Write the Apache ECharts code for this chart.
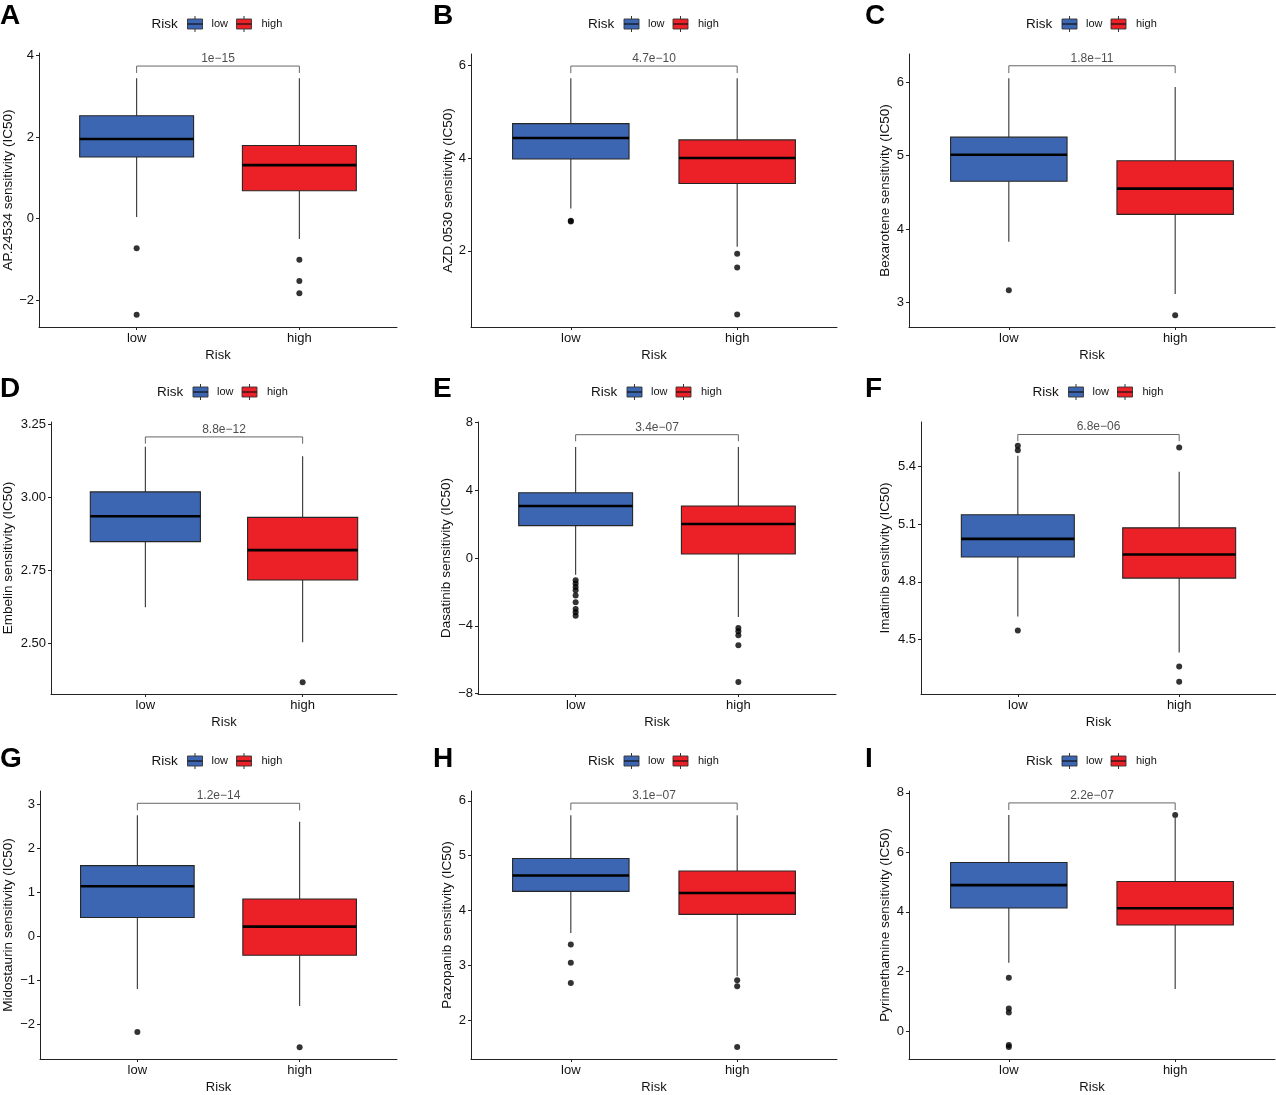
<!DOCTYPE html>
<html>
<head>
<meta charset="utf-8">
<script src="https://cdn.jsdelivr.net/npm/echarts@6.0.0/dist/echarts.min.js"></script>
<style>
  html, body { margin: 0; padding: 0; background: #fff; }
  #chart { width: 1276px; height: 1095px; }
</style>
</head>
<body>
<div id="chart"></div>
<script>
// ---- data ----
const letters = ['A', 'B', 'C', 'D', 'E', 'F', 'G', 'H', 'I'];
const drugs = ['AP.24534', 'AZD.0530', 'Bexarotene', 'Embelin', 'Dasatinib', 'Imatinib', 'Midostaurin', 'Pazopanib', 'Pyrimethamine'];
const groups = ['low', 'high'];
const pValues = ['1e\u221215', '4.7e\u221210', '1.8e\u221211', '8.8e\u221212', '3.4e\u221207', '6.8e\u221206', '1.2e\u221214', '3.1e\u221207', '2.2e\u221207'];

// [lower whisker, Q1, median, Q3, upper whisker]
const lowBox = [
  [0.04, 1.51, 1.95, 2.52, 3.44],
  [2.91, 3.98, 4.43, 4.74, 5.72],
  [3.83, 4.65, 5.01, 5.25, 6.05],
  [2.625, 2.849, 2.936, 3.019, 3.173],
  [-0.98, 1.92, 3.08, 3.86, 6.57],
  [4.619, 4.929, 5.023, 5.148, 5.455],
  [-1.20, 0.43, 1.14, 1.61, 2.76],
  [3.59, 4.35, 4.64, 4.95, 5.74],
  [2.29, 4.13, 4.90, 5.66, 7.25]
];
const highBox = [
  [-0.50, 0.68, 1.31, 1.79, 3.44],
  [2.09, 3.45, 4.00, 4.39, 5.72],
  [3.12, 4.20, 4.55, 4.93, 5.93],
  [2.505, 2.718, 2.820, 2.932, 3.141],
  [-3.47, 0.25, 2.02, 3.08, 6.57],
  [4.433, 4.819, 4.942, 5.080, 5.372],
  [-1.59, -0.43, 0.22, 0.85, 2.61],
  [2.80, 3.93, 4.32, 4.72, 5.74],
  [1.41, 3.56, 4.12, 5.02, 7.15]
];
const lowOutliers = [
  [-0.73, -2.36],
  [2.65, 2.63],
  [3.17],
  [],
  [-1.3, -1.5, -1.7, -1.9, -2.2, -2.6, -3.0, -3.2, -3.4],
  [5.507, 5.483, 4.547],
  [-2.18],
  [3.38, 3.05, 2.68],
  [1.79, 0.76, 0.62, -0.47, -0.54]
];
const highOutliers = [
  [-1.01, -1.53, -1.83],
  [1.94, 1.64, 0.63],
  [2.83],
  [2.368],
  [-4.12, -4.31, -4.55, -5.14, -7.31],
  [5.497, 4.360, 4.281],
  [-2.53],
  [2.73, 2.62, 1.51],
  [7.25]
];
// [leg end, bar] of the comparison bracket
const bracketY = [
  [3.57, 3.74], [5.83, 5.98], [6.12, 6.22],
  [3.184, 3.207], [6.9, 7.29], [5.53, 5.565],
  [2.87, 3.03], [5.83, 5.96], [7.42, 7.66]
];
const yRange = [
  [-2.66, 4.06], [0.36, 6.24], [2.67, 6.38],
  [2.328, 3.258], [-8.02, 8.04], [4.217, 5.63],
  [-2.795, 3.31], [1.293, 6.18], [-0.94, 8.06]
];
const yTicks = [
  [-2, 0, 2, 4], [2, 4, 6], [3, 4, 5, 6],
  [2.5, 2.75, 3, 3.25], [-8, -4, 0, 4, 8], [4.5, 4.8, 5.1, 5.4],
  [-2, -1, 0, 1, 2, 3], [2, 3, 4, 5, 6], [0, 2, 4, 6, 8]
];
const yTickDigits = [0, 0, 0, 2, 0, 1, 0, 0, 0];

// ---- layout ----
const FONT = '"Liberation Sans", Arial, Helvetica, sans-serif';
const colors = ['#3C66B1', '#EC2027'];
// [left, top, width, height] of each plot panel
const rects = [
  [38, 53, 359, 274], [471, 54, 366, 273], [909, 54, 366, 273],
  [49, 422, 348, 272], [478, 422, 358, 272], [921, 422, 355, 272],
  [38, 791, 359, 272], [471, 791, 366, 272], [909, 791, 366, 272]
];
const yTitleGap = [24, 16, 17, 36, 25, 29, 25, 17, 17];
const legendY = [24, 392, 761];
const letterX = [0, 433, 865];
const letterTop = [2, 375, 745];

const chart = echarts.init(document.getElementById('chart'), null, { renderer: 'canvas' });

function renderBox(params, api) {
  const x = api.value(0);
  const lo = api.coord([x, api.value(1)]);
  const q1 = api.coord([x, api.value(2)]);
  const md = api.coord([x, api.value(3)]);
  const q3 = api.coord([x, api.value(4)]);
  const hi = api.coord([x, api.value(5)]);
  const half = api.size([0.7, 0])[0] / 2;
  const fill = colors[x - 1];
  const line = { stroke: '#333', lineWidth: 1.1 };
  return {
    type: 'group',
    children: [
      { type: 'line', shape: { x1: lo[0], y1: lo[1], x2: q1[0], y2: q1[1] }, style: line },
      { type: 'line', shape: { x1: q3[0], y1: q3[1], x2: hi[0], y2: hi[1] }, style: line },
      { type: 'rect', shape: { x: q3[0] - half, y: q3[1], width: half * 2, height: q1[1] - q3[1] },
        style: { fill: fill, stroke: '#262626', lineWidth: 1.1 } },
      { type: 'line', shape: { x1: md[0] - half, y1: md[1], x2: md[0] + half, y2: md[1] },
        style: { stroke: '#000', lineWidth: 2.6 } }
    ]
  };
}

const grid = [], xAxis = [], yAxis = [], series = [], graphic = [];

letters.forEach(function (letter, i) {
  const r = rects[i];
  const row = Math.floor(i / 3), col = i % 3;
  grid.push({ left: r[0], top: r[1], width: r[2], height: r[3] });

  xAxis.push({
    gridIndex: i, type: 'value', min: 0.4, max: 2.6,
    axisLine: { show: true, onZero: false, lineStyle: { color: '#222', width: 1 } },
    axisTick: { show: true, customValues: [1, 2], length: 3, lineStyle: { color: '#222' } },
    axisLabel: { customValues: [1, 2], formatter: v => groups[Math.round(v) - 1],
      fontFamily: FONT, fontSize: 13, color: '#111', margin: 5 },
    splitLine: { show: false },
    name: 'Risk', nameLocation: 'middle', nameGap: 22,
    nameTextStyle: { fontFamily: FONT, fontSize: 13, color: '#111' }
  });

  yAxis.push({
    gridIndex: i, type: 'value', min: yRange[i][0], max: yRange[i][1],
    axisLine: { show: true, onZero: false, lineStyle: { color: '#222', width: 1 } },
    axisTick: { show: true, customValues: yTicks[i], length: 3, lineStyle: { color: '#222' } },
    axisLabel: { customValues: yTicks[i],
      formatter: v => v.toFixed(yTickDigits[i]).replace('-', '\u2212'),
      fontFamily: FONT, fontSize: 13, color: '#111', margin: 5 },
    splitLine: { show: false },
    name: drugs[i] + ' sensitivity (IC50)', nameLocation: 'middle', nameRotate: 90,
    nameGap: yTitleGap[i],
    nameTextStyle: { fontFamily: FONT, fontSize: 13.5, color: '#111' }
  });

  series.push({
    type: 'custom', xAxisIndex: i, yAxisIndex: i,
    renderItem: renderBox,
    encode: { x: 0, y: [1, 2, 3, 4, 5] },
    data: [[1].concat(lowBox[i]), [2].concat(highBox[i])],
    z: 2
  });

  series.push({
    type: 'scatter', xAxisIndex: i, yAxisIndex: i,
    symbolSize: 6, itemStyle: { color: '#000' },
    data: lowOutliers[i].map(v => [1, v]).concat(highOutliers[i].map(v => [2, v])),
    z: 3
  });

  const b = bracketY[i];
  series.push({
    type: 'line', xAxisIndex: i, yAxisIndex: i,
    symbol: 'none', lineStyle: { color: '#666', width: 1 },
    data: [[1, b[0]], [1, b[1]], [2, b[1]], [2, b[0]]],
    z: 2
  });

  series.push({
    type: 'scatter', xAxisIndex: i, yAxisIndex: i,
    symbolSize: 1, itemStyle: { color: 'rgba(0,0,0,0)' },
    label: { show: true, position: 'top', distance: 1, formatter: pValues[i],
      fontFamily: FONT, fontSize: 12, color: '#222' },
    data: [[1.5, b[1]]],
    z: 3
  });

  // panel letter
  graphic.push({
    type: 'text', left: letterX[col], top: letterTop[row],
    style: { text: letter, font: 'bold 28px ' + FONT, fill: '#000' }
  });

  // legend: Risk [low] [high]
  const cx = r[0] + r[2] / 2;
  const key = function (x0, c) {
    return [
      { type: 'line', shape: { x1: x0 + 7.5, y1: -8, x2: x0 + 7.5, y2: 8 }, style: { stroke: '#333', lineWidth: 1 } },
      { type: 'rect', shape: { x: x0, y: -5, width: 15, height: 10 }, style: { fill: c, stroke: '#333', lineWidth: 0.9 } },
      { type: 'line', shape: { x1: x0, y1: 0, x2: x0 + 15, y2: 0 }, style: { stroke: '#111', lineWidth: 1.2 } }
    ];
  };
  graphic.push({
    type: 'group', x: cx - 66, y: legendY[row],
    children: [
      { type: 'text', x: 0, y: 0, style: { text: 'Risk', font: '13.5px ' + FONT, fill: '#111', verticalAlign: 'middle' } }
    ].concat(key(36, colors[0]), [
      { type: 'text', x: 60, y: 0, style: { text: groups[0], font: '11px ' + FONT, fill: '#111', verticalAlign: 'middle' } }
    ], key(85, colors[1]), [
      { type: 'text', x: 110, y: 0, style: { text: groups[1], font: '11px ' + FONT, fill: '#111', verticalAlign: 'middle' } }
    ])
  });
});

chart.setOption({
  animation: false,
  backgroundColor: '#fff',
  grid: grid,
  xAxis: xAxis,
  yAxis: yAxis,
  series: series,
  graphic: graphic
});
</script>
</body>
</html>
